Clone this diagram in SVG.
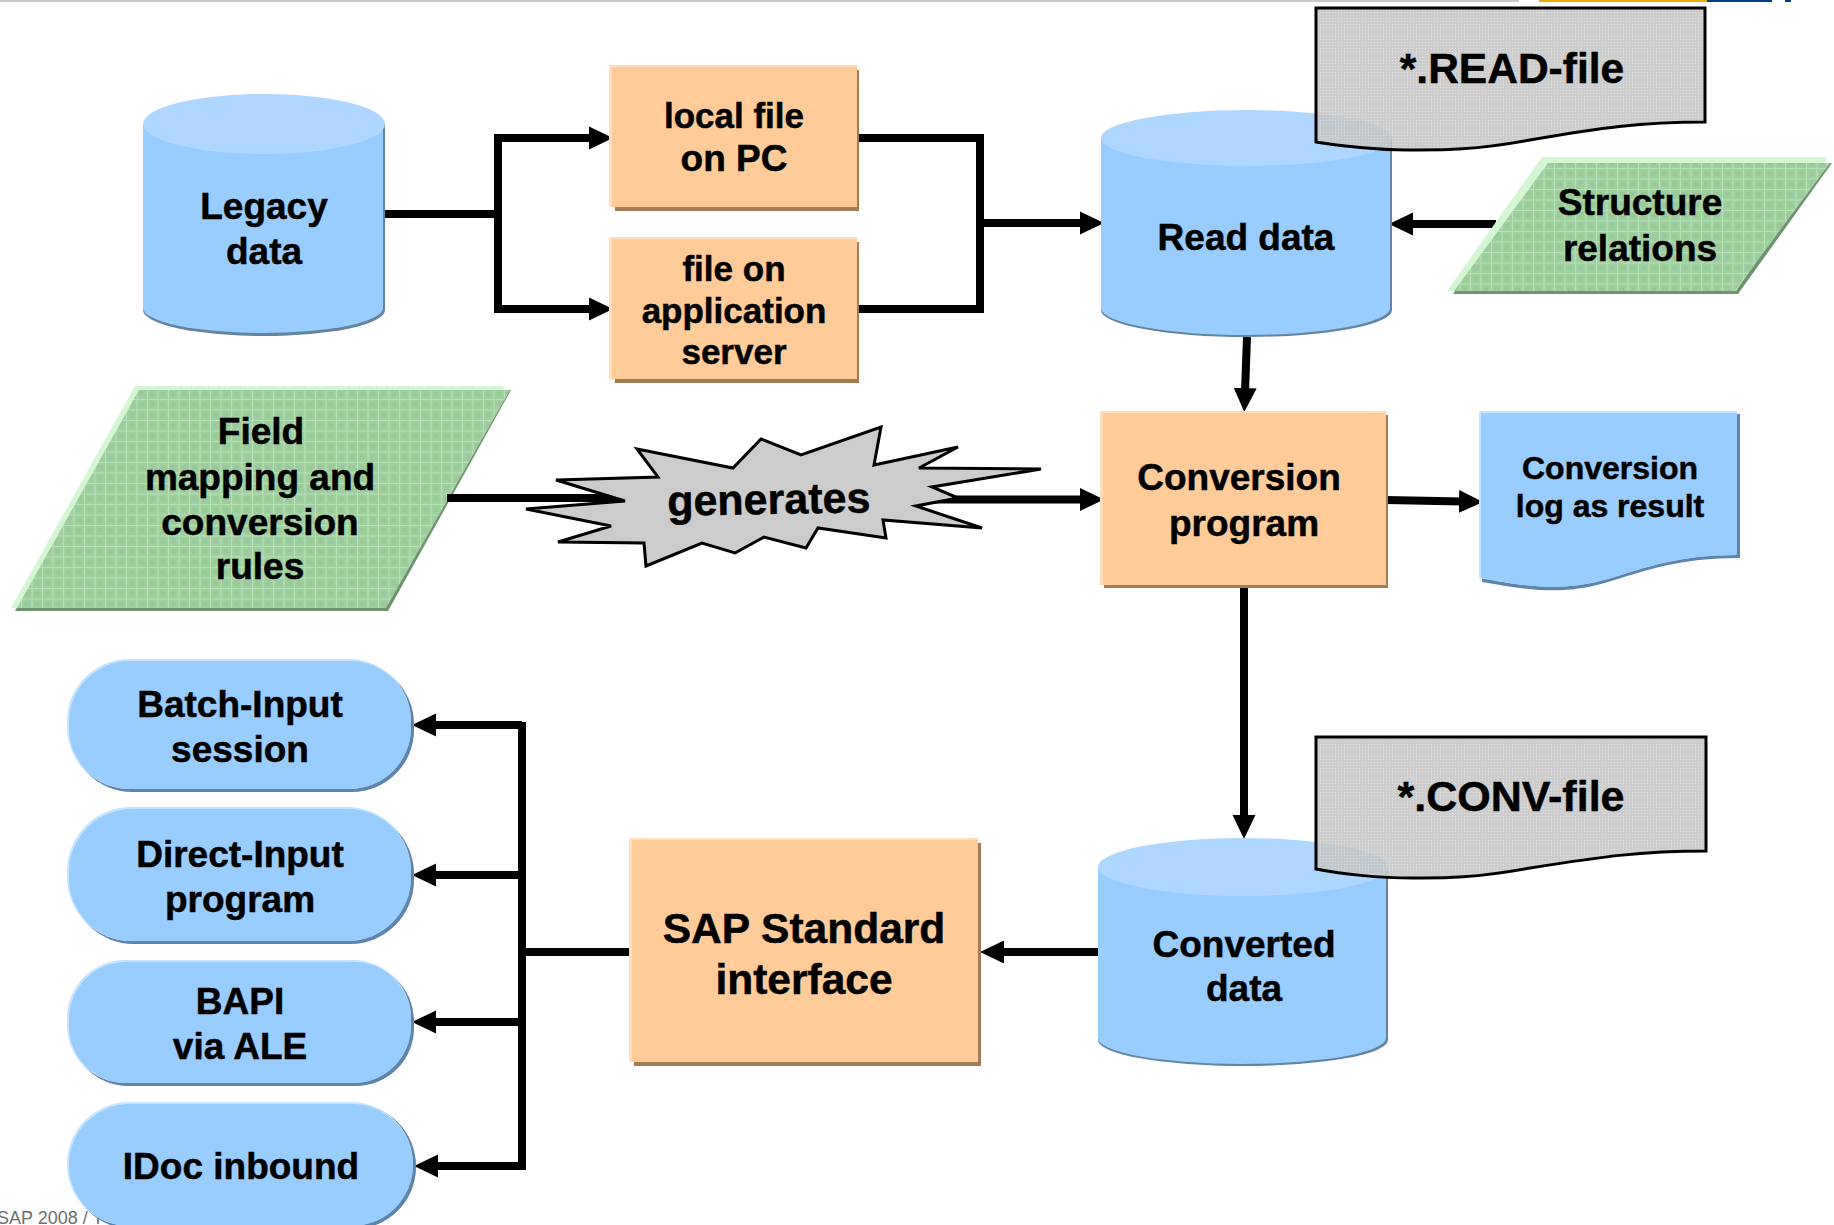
<svg xmlns="http://www.w3.org/2000/svg" width="1834" height="1225" viewBox="0 0 1834 1225">
<style>
text{font-family:"Liberation Sans",Arial,sans-serif;font-weight:bold;fill:#000;text-anchor:middle;stroke:#000;stroke-width:.5px}
.conn{fill:none;stroke:#000;stroke-width:8}
.arr{marker-end:url(#ah)}
.sh{fill:#a37b55}.hl{fill:#ffddbb}.bx{fill:#ffcc99}
.cyl-s{fill:#63839f}.cyl{fill:#99ccff}.cyl-t{fill:#aed6ff}
.p-h{fill:#c4e4ff}.p-s{fill:#5f84ab}
.g-s{fill:#6f936f}.g-h{fill:#d2f7d2}
.doc{fill:url(#gray);fill-opacity:.88;stroke:none}
.doc-l{fill:none;stroke:#000;stroke-width:3}
.t35{font-size:35px}.t37{font-size:37px}.t42{font-size:42.500px}.t32{font-size:32px}
</style>
<defs>
<marker id="ah" markerUnits="userSpaceOnUse" markerWidth="26" markerHeight="24" refX="4" refY="12" orient="auto"><path d="M0 0.500L24 12L0 23.500Z" fill="#000"/></marker>
<pattern id="green" width="10.500" height="10.500" patternUnits="userSpaceOnUse">
<rect width="10.500" height="10.500" fill="#9fce9f"/><rect width="5" height="5" x="3" y="3" fill="#9aca9a"/>
<path d="M0 0.500H10.500M0.500 0V10.500" stroke="#b6e2b6" stroke-width="1"/></pattern>
<pattern id="gray" width="3" height="3" patternUnits="userSpaceOnUse">
<rect width="3" height="3" fill="#c6c6c6"/><rect width="1" height="1" fill="#dcdcdc"/></pattern>
</defs>
<g id="top-strip">
<rect x="0" y="0" width="1519" height="2" fill="#c8c8c8"/>
<rect x="1539" y="0" width="168" height="2" fill="#f0ab00"/>
<rect x="1707" y="0" width="65" height="2" fill="#003e8a"/>
<rect x="1785" y="0" width="6" height="2" fill="#003e8a"/>
</g>
<text id="footer" x="-3" y="1224" style="font-weight:normal;text-anchor:start;font-size:18px;fill:#6e6e6e;stroke:none">SAP 2008 / T</text>
<g id="field-mapping">
<path class="g-s" d="M137 390H511L388 611H15Z"/>
<path class="g-h" d="M135 386H505L385 608H11Z"/>
<path fill="url(#green)" d="M139 390H510L386 608H17Z"/>
<text class="t37" x="261" y="444">Field</text><text class="t37" x="260" y="490">mapping and</text><text class="t37" x="260" y="535">conversion</text><text class="t37" x="260" y="579">rules</text>
</g>
<g id="connectors">
<path class="conn" d="M384 214H498"/>
<path class="conn" d="M498 134V313"/>
<path class="conn arr" d="M498 138H593"/>
<path class="conn arr" d="M498 309H593"/>
<path class="conn" d="M857 138H980V309H857"/>
<path class="conn arr" d="M980 223H1084"/>
<path class="conn arr" d="M1496 224H1409"/>
<path class="conn arr" d="M1247 337L1245 392"/>
<path class="conn" d="M447 498H640"/>
<path class="conn arr" d="M930 499.500H1084"/>
<path class="conn arr" d="M1386 500L1463 501.500"/>
<path class="conn arr" d="M1244 586V819"/>
<path class="conn arr" d="M1102 952H1000"/>
<path class="conn" d="M632 952H522"/>
<path class="conn" d="M522 722V1170"/>
<path class="conn arr" d="M522 725H432"/>
<path class="conn arr" d="M522 875H432"/>
<path class="conn arr" d="M522 1022H432"/>
<path class="conn arr" d="M522 1166H434"/>
</g>
<g id="legacy">
<path class="cyl-s" d="M143 124V310A121 26 0 0 0 385 310V124Z"/>
<path class="cyl" d="M143 124V308A120 25 0 0 0 383 308V124Z"/>
<ellipse class="cyl-t" cx="264" cy="124" rx="121" ry="30"/>
<text class="t37" x="264" y="219">Legacy</text><text class="t37" x="264" y="264">data</text>
</g>
<g id="local-file">
<rect class="sh" x="615" y="70" width="244" height="141"/><rect class="hl" x="609" y="65" width="248" height="142"/><rect class="bx" x="612" y="67" width="245" height="140"/>
<text class="t35" x="734" y="128">local file</text><text x="734" y="171" style="font-size:37px">on PC</text>
</g>
<g id="app-server">
<rect class="sh" x="615" y="242" width="244" height="141"/><rect class="hl" x="609" y="237" width="248" height="142"/><rect class="bx" x="612" y="239" width="245" height="140"/>
<text class="t35" x="734" y="281">file on</text><text class="t35" x="734" y="323">application</text><text class="t35" x="734" y="364">server</text>
</g>
<g id="read-data">
<path class="cyl-s" d="M1101 138V310A145.500 27 0 0 0 1392 310V138Z"/>
<path class="cyl" d="M1101 138V308A144.500 27 0 0 0 1390 308V138Z"/>
<ellipse class="cyl-t" cx="1246.500" cy="138" rx="145.500" ry="28"/>
<text class="t37" x="1246" y="250">Read data</text>
</g>
<g id="read-file">
<path class="doc" d="M1316 8H1705V122C1640 122 1600 128 1530 140C1470 151 1440 150 1406 150C1380 150 1340 146 1316 142Z"/>
<path class="doc-l" d="M1316 8H1705V122C1640 122 1600 128 1530 140C1470 151 1440 150 1406 150C1380 150 1340 146 1316 142Z"/>
<text x="1512" y="83" style="font-size:42.500px">*.READ-file</text>
</g>
<g id="structure">
<path class="g-s" d="M1546 163H1832L1738 294H1453Z"/>
<path class="g-h" d="M1542 157H1828L1736 291H1447Z"/>
<path fill="url(#green)" d="M1548 163H1830L1735 291H1454Z"/>
<text class="t37" x="1640" y="215">Structure</text><text class="t37" x="1640" y="261">relations</text>
</g>
<g id="generates">
<path fill="#ccc" stroke="#000" stroke-width="3" stroke-linejoin="miter" d="M881 427L874 465L958 447L919 468L1041 469L932 487L958 498L916 506L982 528L883 520L886 538L818 528L806 548L764 537L735 553L702 543L646 566L644 543L558 542L611 526L526 509L625 501L556 480L658 477L637 449L733 468L761 439L801 455Z"/>
<text transform="rotate(-1 769 514)" x="769" y="514" style="font-size:43px">generates</text>
</g>
<g id="conversion-program">
<rect class="sh" x="1104" y="415" width="284" height="173"/><rect class="hl" x="1100" y="411" width="286" height="174"/><rect class="bx" x="1103" y="413" width="283" height="172"/>
<text class="t37" x="1239" y="490">Conversion</text><text class="t37" x="1244" y="536">program</text>
</g>
<g id="conversion-log">
<path class="p-s" d="M1482 414H1740V558C1678 558 1648 570 1608 582C1568 594 1538 592 1482 582Z"/>
<path class="p-h" d="M1479 411H1737V555C1678 555 1648 567 1608 579C1568 590 1538 589 1479 578Z"/>
<path class="cyl" d="M1481 413H1737V555C1678 555 1648 567 1608 579C1568 590 1538 589 1481 578Z"/>
<text class="t32" x="1610" y="479">Conversion</text><text class="t32" x="1610" y="517">log as result</text>
</g>
<g id="converted-data">
<path class="cyl-s" d="M1098 867V1040A145 26 0 0 0 1388 1040V867Z"/>
<path class="cyl" d="M1098 867V1038A144 26 0 0 0 1386 1038V867Z"/>
<ellipse class="cyl-t" cx="1243" cy="867" rx="145" ry="29"/>
<text class="t37" x="1244" y="957">Converted</text><text class="t37" x="1244" y="1001">data</text>
</g>
<g id="conv-file">
<path class="doc" d="M1316 737H1706V851C1640 851 1600 857 1530 868C1470 879 1440 878 1412 878C1380 878 1340 874 1316 869Z"/>
<path class="doc-l" d="M1316 737H1706V851C1640 851 1600 857 1530 868C1470 879 1440 878 1412 878C1380 878 1340 874 1316 869Z"/>
<text x="1511" y="811" style="font-size:43px">*.CONV-file</text>
</g>
<g id="sap-standard">
<rect class="sh" x="634" y="843" width="347" height="223"/><rect class="hl" x="629" y="838" width="349" height="224"/><rect class="bx" x="632" y="840" width="346" height="222"/>
<text class="t42" x="804" y="943">SAP Standard</text><text class="t42" x="804" y="994">interface</text>
</g>
<g id="batch-input">
<rect class="p-s" x="70" y="662" width="344" height="130" rx="62"/><rect class="p-h" x="67" y="659" width="344" height="130" rx="62"/><rect class="cyl" x="69" y="661" width="342" height="128" rx="61"/>
<text class="t37" x="240" y="717">Batch-Input</text><text class="t37" x="240" y="762">session</text>
</g>
<g id="direct-input">
<rect class="p-s" x="70" y="810" width="344" height="134" rx="64"/><rect class="p-h" x="67" y="807" width="344" height="134" rx="64"/><rect class="cyl" x="69" y="809" width="342" height="132" rx="63"/>
<text class="t37" x="240" y="867">Direct-Input</text><text class="t37" x="240" y="912">program</text>
</g>
<g id="bapi">
<rect class="p-s" x="70" y="963" width="344" height="123" rx="58"/><rect class="p-h" x="67" y="960" width="344" height="123" rx="58"/><rect class="cyl" x="69" y="962" width="342" height="121" rx="57"/>
<text class="t37" x="240" y="1014">BAPI</text><text class="t37" x="240" y="1059">via ALE</text>
</g>
<g id="idoc">
<rect class="p-s" x="70" y="1104" width="346" height="125" rx="62"/><rect class="p-h" x="67" y="1102" width="346" height="124" rx="62"/><rect class="cyl" x="69" y="1104" width="344" height="122" rx="61"/>
<text class="t37" x="241" y="1179">IDoc inbound</text>
</g>
</svg>
